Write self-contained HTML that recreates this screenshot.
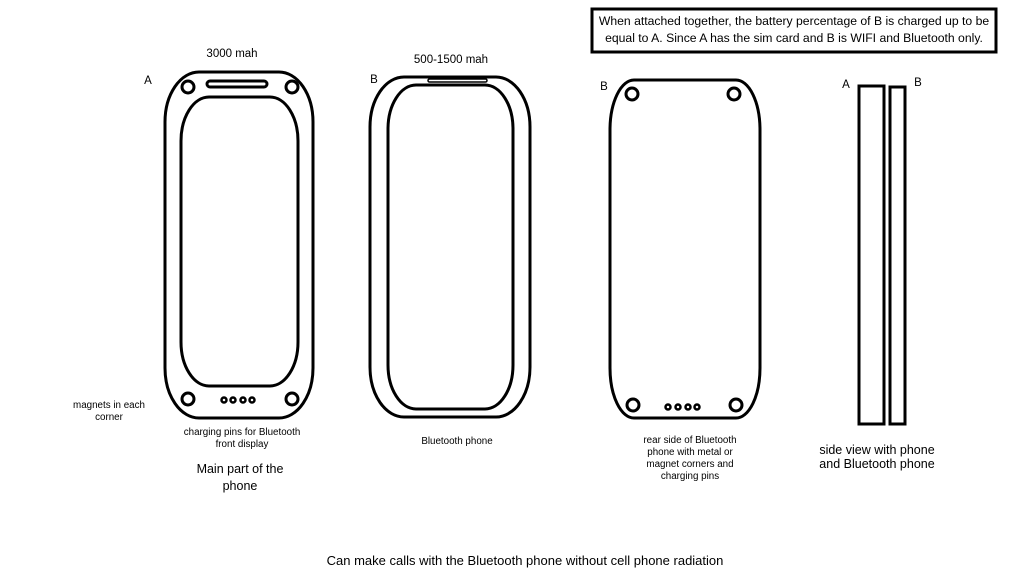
<!DOCTYPE html>
<html><head><meta charset="utf-8"><style>
html,body{margin:0;padding:0;background:#fff;}
svg{display:block;}
text{font-family:"Liberation Sans",sans-serif;fill:#000;}
</style></head><body>
<svg width="1024" height="576" viewBox="0 0 1024 576" xmlns="http://www.w3.org/2000/svg">
<g fill="none" stroke="#000" stroke-width="3">
<rect x="165" y="72" width="148" height="346" rx="34" ry="50"/>
<rect x="181" y="97" width="117" height="289" rx="28" ry="44"/>
<rect x="207" y="81" width="60" height="6" rx="3"/>
<circle cx="188" cy="87" r="6"/><circle cx="292" cy="87" r="6"/>
<circle cx="188" cy="399" r="6"/><circle cx="292" cy="399" r="6"/>
<rect x="370" y="77" width="160" height="340" rx="34" ry="50"/>
<rect x="388" y="85" width="125" height="324" rx="28" ry="44"/>
<rect x="610" y="80" width="150" height="338" rx="24" ry="50"/>
<circle cx="632" cy="94" r="6"/><circle cx="734" cy="94" r="6"/>
<circle cx="633" cy="405" r="6"/><circle cx="736" cy="405" r="6"/>
<rect x="859" y="86" width="25" height="338"/>
<rect x="890" y="87" width="15" height="337"/>
<rect x="592" y="9" width="404" height="43"/>
</g>
<g fill="none" stroke="#000" stroke-width="1.5">
<rect x="428" y="79" width="59" height="3" rx="1.5"/>
</g>
<g fill="none" stroke="#000" stroke-width="2.5">
<circle cx="224" cy="400" r="2.5"/><circle cx="233" cy="400" r="2.5"/><circle cx="243" cy="400" r="2.5"/><circle cx="252" cy="400" r="2.5"/>
<circle cx="668" cy="407" r="2.5"/><circle cx="678" cy="407" r="2.5"/><circle cx="688" cy="407" r="2.5"/><circle cx="697" cy="407" r="2.5"/>
</g>
<g font-size="12.2" text-anchor="middle">
<text x="794" y="25">When attached together, the battery percentage of B is charged up to be</text>
<text x="794" y="42">equal to A. Since A has the sim card and B is WIFI and Bluetooth only.</text>
</g>
<g font-size="11.5" text-anchor="middle">
<text x="232" y="57">3000 mah</text>
<text x="451" y="63">500-1500 mah</text>
<text x="148" y="84">A</text>
<text x="374" y="83">B</text>
<text x="604" y="90">B</text>
<text x="846" y="88">A</text>
<text x="918" y="86">B</text>
</g>
<g font-size="9.8" text-anchor="middle">
<text x="109" y="408">magnets in each</text>
<text x="109" y="420">corner</text>
<text x="242" y="435">charging pins for Bluetooth</text>
<text x="242" y="447">front display</text>
<text x="457" y="444">Bluetooth phone</text>
<text x="690" y="443">rear side of Bluetooth</text>
<text x="690" y="455">phone with metal or</text>
<text x="690" y="467">magnet corners and</text>
<text x="690" y="479">charging pins</text>
</g>
<g font-size="12.5" text-anchor="middle">
<text x="240" y="473">Main part of the</text>
<text x="240" y="490">phone</text>
<text x="877" y="454">side view with phone</text>
<text x="877" y="468">and Bluetooth phone</text>
<text x="525" y="565" font-size="13">Can make calls with the Bluetooth phone without cell phone radiation</text>
</g>
</svg>
</body></html>
